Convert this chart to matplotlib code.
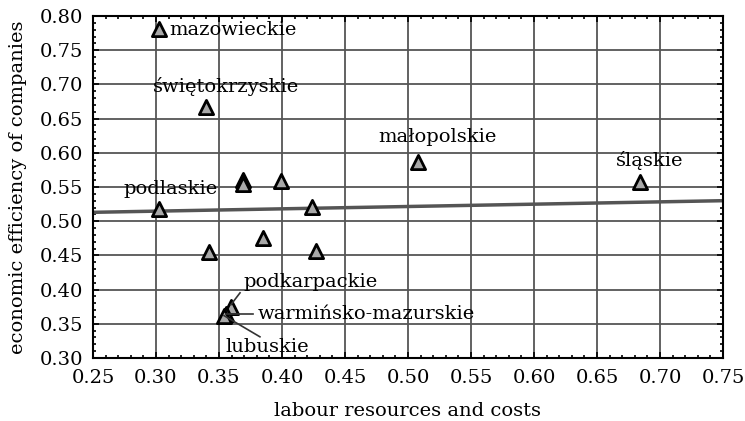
import matplotlib
matplotlib.use("Agg")
import matplotlib.pyplot as plt
from matplotlib.ticker import MultipleLocator

# data
labour = [0.302, 0.340, 0.508, 0.684, 0.369, 0.369, 0.399, 0.302, 0.424,
          0.385, 0.342, 0.427, 0.3595, 0.3556, 0.354]
efficiency = [0.781, 0.667, 0.587, 0.558, 0.560, 0.554, 0.559, 0.518, 0.521,
              0.475, 0.455, 0.457, 0.375, 0.365, 0.362]
names = ["mazowieckie", "świętokrzyskie", "małopolskie", "śląskie", "", "", "",
         "podlaskie", "", "", "", "", "podkarpackie", "warmińsko-mazurskie",
         "lubuskie"]

# regression line ends
fit_x = [0.25, 0.75]
fit_y = [0.513, 0.530]

plt.rcParams['font.family'] = ['DejaVu Serif']
plt.rcParams['font.size'] = 14

fig = plt.figure(figsize=(7.45, 4.21), dpi=100)
ax = fig.add_axes([0.1248, 0.1496, 0.8457, 0.8124])

ax.set_xlim(0.25, 0.75)
ax.set_ylim(0.30, 0.80)
ax.xaxis.set_major_locator(MultipleLocator(0.05))
ax.yaxis.set_major_locator(MultipleLocator(0.05))
ax.xaxis.set_minor_locator(MultipleLocator(0.01))
ax.yaxis.set_minor_locator(MultipleLocator(0.01))
ax.xaxis.set_major_formatter(lambda v, p: "%.2f" % v)
ax.yaxis.set_major_formatter(lambda v, p: "%.2f" % v)
ax.tick_params(which='both', direction='in', top=True, right=True, width=1.2)
ax.tick_params(which='major', length=4)
ax.tick_params(axis='x', which='major', pad=8)
ax.tick_params(axis='y', which='major', pad=7)
ax.tick_params(which='minor', length=2)
ax.grid(True, which='major', color='#555555', linewidth=1.3)
ax.set_axisbelow(True)
for s in ax.spines.values():
    s.set_linewidth(1.5)

ax.plot(fit_x, fit_y, color='#555555', linewidth=2.5, zorder=2)
ax.scatter(labour, efficiency, marker='^', s=105, facecolor='#a8a8a8',
           edgecolor='black', linewidth=2, zorder=3)

# labels next to markers (offsets in points)
offsets = {
    "mazowieckie": (8, -1, 'left'),
    "świętokrzyskie": (14, 15, 'center'),
    "małopolskie": (14, 18, 'center'),
    "śląskie": (7, 15, 'center'),
    "podlaskie": (9, 14, 'center'),
}
for x, y, n in zip(labour, efficiency, names):
    if n in offsets:
        dx, dy, ha = offsets[n]
        ax.annotate(n, (x, y), xytext=(dx, dy), textcoords='offset points',
                    ha=ha, va='center')

# labels with leader lines for the crowded group
ax.plot([0.3595, 0.3667], [0.378, 0.3953], color='#333333', lw=1.2, zorder=4)
ax.text(0.3698, 0.4114, "podkarpackie", ha='left', va='center')
ax.plot([0.3556, 0.377], [0.365, 0.365], color='#333333', lw=1.2, zorder=4)
ax.text(0.381, 0.365, "warmińsko-mazurskie", ha='left', va='center')
ax.plot([0.354, 0.3825], [0.362, 0.331], color='#333333', lw=1.2, zorder=4)
ax.text(0.388, 0.316, "lubuskie", ha='center', va='center')

ax.set_xlabel("labour resources and costs", labelpad=11)
ax.set_ylabel("economic efficiency of companies", labelpad=9)

fig.savefig("out.png", dpi=100)
